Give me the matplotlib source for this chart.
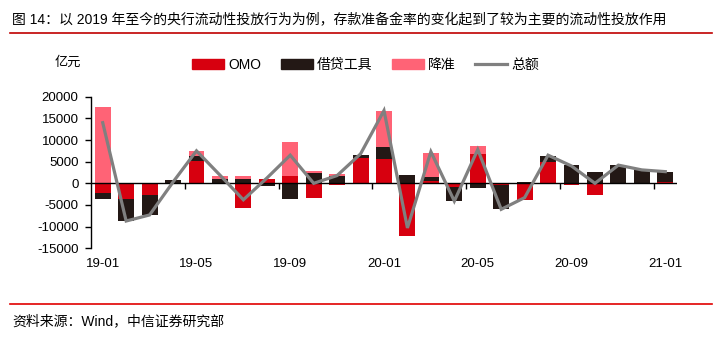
import matplotlib
matplotlib.use("Agg")
import matplotlib.pyplot as plt
import numpy as np
from matplotlib.lines import Line2D
from matplotlib.patches import Patch

plt.rcParams['font.family'] = ['Liberation Sans', 'Noto Sans CJK SC', 'DejaVu Sans']
plt.rcParams['axes.unicode_minus'] = False

# 数据（亿元）
months = ['19-01', '19-02', '19-03', '19-04', '19-05', '19-06', '19-07', '19-08', '19-09',
          '19-10', '19-11', '19-12', '20-01', '20-02', '20-03', '20-04', '20-05', '20-06',
          '20-07', '20-08', '20-09', '20-10', '20-11', '20-12', '21-01']
omo = [-2300, -3700, -2800, 0, 5200, 0, -5800, 1100, 1600, -3300, -400, 5900, 5700,
       -12200, 550, -950, 6700, -300, -3900, 4900, -400, -2700, 0, 0, 300]
lend = [-1300, -4900, -4400, 800, 1150, 950, 1000, -700, -3700, 2350, 1650, 700, 2700,
        1900, 850, -3100, -1100, -5700, 300, 1400, 4200, 2600, 4200, 3100, 2300]
rrr = [17600, 0, 0, 0, 1150, 850, 800, 0, 8000, 450, 450, 0, 8200,
       0, 5600, 0, 1950, 0, 0, 0, 0, 0, 0, 0, 0]
total = [14000, -8700, -7300, 300, 7500, 1900, -3800, 1200, 6500, 0, 1800, 6800, 16800,
         -10300, 7300, -4100, 7800, -6000, -3300, 6500, 4000, 0, 4200, 3100, 2700]

series = [('OMO', omo, '#D7000F'), ('借贷工具', lend, '#231815'), ('降准', rrr, '#FF6376')]
line_color = '#808080'

W, H = 724, 337
fig = plt.figure(figsize=(W / 100, H / 100), dpi=100)
ax = fig.add_axes([91 / W, 1 - 248.3 / H, (677 - 91) / W, (248.3 - 96.7) / H])

x = np.arange(len(months))
pos_base = np.zeros(len(months))
neg_base = np.zeros(len(months))
for name, vals, col in series:
    v = np.array(vals, dtype=float)
    bottom = np.where(v >= 0, pos_base, neg_base)
    ax.bar(x, v, 0.68, bottom=bottom, color=col, zorder=2)
    pos_base += np.where(v > 0, v, 0)
    neg_base += np.where(v < 0, v, 0)

ax.plot(x, total, color=line_color, lw=2.3, zorder=4, solid_joinstyle='miter')

# 零轴和刻度
ax.axhline(0, color='black', lw=1, zorder=3)
ax.vlines(np.arange(3.5, len(months), 4), -1200, 0, color='black', lw=1, zorder=3)

ax.set_xlim(-0.5, len(months) - 0.5)
ax.set_ylim(-15000, 20000)
ax.set_yticks(np.arange(-15000, 20001, 5000))
ax.tick_params(axis='y', direction='out', length=4, width=1, labelsize=9.5, pad=5)
ax.set_xticks(x[::4])
ax.set_xticklabels(months[::4])
ax.tick_params(axis='x', length=0, labelsize=9.5, pad=7)
for s in ['top', 'right', 'bottom']:
    ax.spines[s].set_visible(False)
ax.spines['left'].set_linewidth(1)

# 图例
handles = [Patch(color=c) for _, _, c in series] + [Line2D([0], [0], color=line_color, lw=2.3)]
labels = [n for n, _, _ in series] + ['总额']
fig.legend(handles, labels, loc='center left', bbox_to_anchor=(192 / W, 1 - 65 / H),
           ncol=4, frameon=False, fontsize=10, handlelength=2.3, handleheight=0.65,
           handletextpad=0.3, columnspacing=1.4, borderpad=0, borderaxespad=0)
fig.text(55 / W, 1 - 63 / H, '亿元', fontsize=9.5, va='center')

# 标题和来源
fig.text(12 / W, 1 - 20 / H, '图 14：以 2019 年至今的央行流动性投放行为为例，存款准备金率的变化起到了较为主要的流动性投放作用',
         fontsize=10, va='center')
fig.add_artist(Line2D([10 / W, 712 / W], [1 - 33 / H, 1 - 33 / H], color='#C00000', lw=1.2))
fig.add_artist(Line2D([10 / W, 712 / W], [1 - 304 / H, 1 - 304 / H], color='#E00000', lw=1.2))
fig.text(12 / W, 1 - 321 / H, '资料来源：Wind，中信证券研究部', fontsize=10, va='center')

fig.savefig('out.png', dpi=100)
